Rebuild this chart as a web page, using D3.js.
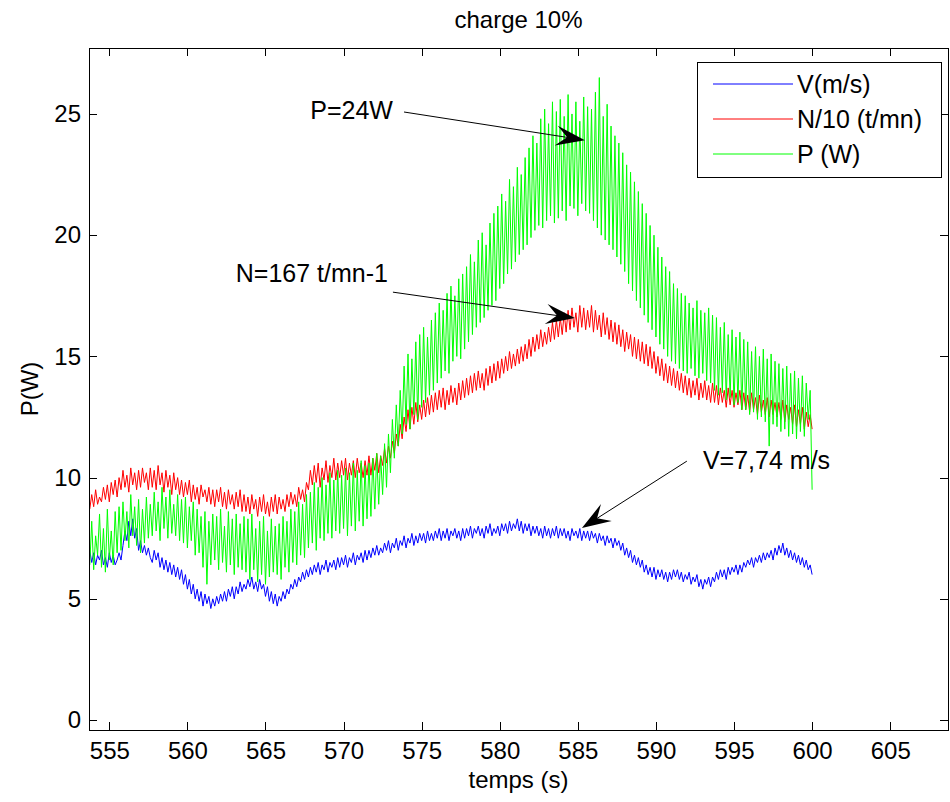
<!DOCTYPE html>
<html>
<head>
<meta charset="utf-8">
<script src="https://cdn.jsdelivr.net/npm/d3@7"></script>
<style>
  body { margin: 0; background: #fff; }
  text { font-family: "Liberation Sans", Arial, sans-serif; fill: #000; }
</style>
</head>
<body>
<div class="chart"></div>
<script>
function wrapper(){

// sampling grid of the recording (s)
var timeStart = 553.75;
var timeStep = 0.125;

// V (m/s), one row = 2 s
var speedV = [
  7.0,6.5,6.9,6.4,6.8,6.6,7.0,6.4,6.7,6.3,6.9,6.5,6.8,6.4,6.6,6.9,
  6.6,7.2,7.8,7.4,8.2,7.6,8.3,7.5,7.9,7.0,7.4,6.9,7.2,6.8,7.1,6.7,
  6.5,7.0,6.6,6.9,6.3,6.7,6.2,6.6,6.1,6.5,6.0,6.4,5.9,6.3,5.8,6.2,
  5.6,6.0,5.4,5.8,5.2,5.6,5.0,5.4,4.9,5.3,4.7,5.2,4.8,5.1,4.6,5.0,
  4.7,5.1,4.8,5.2,4.9,5.3,4.9,5.4,5.1,5.5,5.0,5.5,5.2,5.7,5.3,5.6,
  5.4,5.8,5.5,5.9,5.4,5.7,5.3,5.8,5.4,5.6,5.1,5.5,4.9,5.3,4.8,5.2,
  4.7,5.1,4.9,5.3,5.0,5.4,5.2,5.6,5.4,5.8,5.5,5.9,5.7,6.1,5.8,6.2,
  5.9,6.3,6.0,6.4,6.1,6.5,6.0,6.4,6.2,6.6,6.1,6.5,6.3,6.6,6.2,6.7,
  6.3,6.7,6.4,6.8,6.3,6.7,6.5,6.9,6.4,6.8,6.6,6.9,6.5,7.0,6.6,7.0,
  6.7,7.1,6.8,7.2,6.8,7.1,6.9,7.3,7.0,7.4,6.9,7.3,7.1,7.5,7.0,7.4,
  7.2,7.6,7.1,7.5,7.3,7.7,7.2,7.6,7.3,7.7,7.4,7.7,7.3,7.8,7.4,7.7,
  7.4,7.8,7.5,7.9,7.4,7.8,7.5,7.9,7.4,7.8,7.6,7.9,7.5,7.8,7.4,7.9,
  7.5,7.9,7.6,8.0,7.5,7.9,7.7,8.0,7.6,7.9,7.5,8.0,7.7,8.1,7.6,7.9,
  7.7,8.0,7.6,8.1,7.8,8.1,7.7,8.2,7.8,8.1,7.9,8.3,7.8,8.2,7.7,8.1,
  7.8,8.1,7.6,8.0,7.7,8.0,7.6,7.9,7.5,8.0,7.6,7.9,7.5,7.9,7.6,8.0,
  7.5,7.9,7.6,7.9,7.5,7.8,7.4,7.9,7.6,7.8,7.5,7.9,7.4,7.8,7.5,7.8,
  7.4,7.8,7.5,7.7,7.3,7.7,7.4,7.6,7.2,7.6,7.3,7.5,7.1,7.5,7.2,7.4,
  7.0,7.3,6.8,7.1,6.7,7.0,6.5,6.8,6.4,6.7,6.3,6.6,6.1,6.4,6.0,6.3,
  5.9,6.3,5.8,6.2,5.9,6.2,5.8,6.1,5.7,6.1,5.8,6.2,5.9,6.2,5.8,6.1,
  5.7,6.0,5.8,6.1,5.6,5.9,5.7,6.0,5.5,5.8,5.4,5.8,5.6,5.9,5.5,5.9,
  5.7,6.1,5.8,6.2,5.9,6.2,5.8,6.3,6.0,6.3,6.1,6.4,6.0,6.4,6.1,6.5,
  6.3,6.6,6.4,6.7,6.3,6.7,6.5,6.8,6.5,6.9,6.6,6.9,6.7,7.0,6.6,7.1,
  6.8,7.2,6.9,7.3,6.8,7.1,6.7,7.0,6.6,6.9,6.5,6.8,6.4,6.7,6.3,6.6,
  6.2,6.4,6.0
];

// N/10 (t/mn)
var rotationN = [
  8.7,9.3,8.8,9.5,8.9,9.2,9.0,9.6,9.1,9.7,9.0,9.8,9.3,9.9,9.2,10.0,
  9.5,10.3,9.6,10.1,9.4,10.4,9.7,10.2,9.5,10.3,9.6,10.4,9.8,10.2,9.5,10.4,
  9.6,10.3,9.5,10.5,9.7,10.2,9.4,10.3,9.6,10.1,9.3,10.2,9.5,10.0,9.3,9.9,
  9.2,9.8,9.3,9.9,9.0,9.7,9.1,9.6,8.9,9.7,9.2,9.5,9.0,9.6,8.9,9.5,
  8.8,9.5,9.0,9.6,8.8,9.4,8.7,9.5,8.9,9.3,8.7,9.4,8.8,9.5,8.6,9.3,
  8.6,9.2,8.5,9.3,8.7,9.1,8.4,9.2,8.6,9.3,8.5,9.0,8.4,9.2,8.6,9.3,
  8.5,9.2,8.7,9.1,8.6,9.3,8.8,9.4,8.9,9.3,8.8,9.6,9.1,9.5,9.0,9.8,
  9.5,10.3,9.7,10.5,9.8,10.6,9.6,10.4,9.9,10.7,9.8,10.5,10.0,10.8,9.9,10.6,
  10.0,10.7,10.1,10.8,9.9,10.6,10.1,10.7,10.0,10.8,10.2,10.6,10.0,10.7,10.1,10.9,
  10.1,10.8,10.3,11.0,10.2,10.9,10.5,11.2,10.6,11.3,10.8,11.5,11.0,11.8,11.3,12.2,
  11.6,12.5,11.9,12.8,12.0,12.9,12.2,13.1,12.3,13.0,12.4,13.2,12.5,13.3,12.6,13.4,
  12.7,13.5,12.8,13.6,12.9,13.7,12.8,13.6,13.0,13.8,13.1,13.7,13.0,13.9,13.2,14.0,
  13.3,14.1,13.4,14.2,13.5,14.3,13.6,14.4,13.7,14.3,13.6,14.5,13.8,14.6,13.9,14.7,
  14.0,14.8,14.1,14.9,14.3,15.0,14.4,15.2,14.5,15.1,14.6,15.3,14.7,15.4,14.8,15.5,
  14.9,15.7,15.0,15.8,15.2,15.9,15.3,16.1,15.4,16.0,15.5,16.2,15.6,16.4,15.7,16.5,
  15.8,16.6,15.9,16.8,16.0,16.9,16.1,17.0,16.2,16.8,16.0,17.1,16.2,17.0,16.1,16.9,
  16.2,17.1,16.0,16.9,16.1,16.7,15.8,16.8,15.9,16.6,15.7,16.5,15.6,16.4,15.5,16.3,
  15.4,16.1,15.2,16.0,15.3,15.9,15.0,15.8,14.9,15.7,14.8,15.6,14.7,15.5,14.6,15.4,
  14.5,15.2,14.3,15.0,14.2,14.9,14.0,14.7,13.9,14.6,13.8,14.5,13.7,14.4,13.6,14.3,
  13.5,14.2,13.4,14.1,13.3,14.0,13.4,14.1,13.2,13.9,13.3,14.0,13.2,13.8,13.1,13.9,
  13.1,13.8,13.0,13.7,13.1,13.6,12.9,13.7,13.0,13.6,12.9,13.5,13.0,13.6,12.8,13.5,
  12.8,13.4,12.7,13.5,12.8,13.3,12.6,13.4,12.7,13.2,12.6,13.3,12.5,13.2,12.6,13.1,
  12.5,13.1,12.4,13.2,12.3,13.0,12.4,12.9,12.2,13.0,12.1,12.8,12.2,12.9,12.0,12.7,
  12.1,12.6,12.0
];

// P (W)
var powerP = [
  6.4,8.2,6.2,7.6,6.8,8.5,6.3,7.9,6.1,8.7,6.6,7.8,6.4,8.6,6.9,8.8,
  7.0,9.0,7.4,8.6,7.1,9.3,7.6,8.8,7.2,9.1,6.9,8.7,7.3,9.2,7.5,8.9,
  7.6,9.4,7.8,9.0,7.4,9.6,7.9,9.2,7.5,9.5,7.7,8.9,7.6,9.3,7.4,9.1,
  7.3,9.2,7.1,8.8,7.4,9.0,6.8,8.7,6.9,8.4,6.3,8.6,5.6,8.2,6.4,8.5,
  6.6,8.4,6.2,8.7,6.5,8.0,6.1,8.6,6.4,8.3,6.0,8.5,6.3,8.1,6.2,8.4,
  6.1,8.3,5.8,8.5,6.2,7.9,5.7,8.2,6.0,8.4,5.6,7.8,5.9,8.3,6.1,8.0,
  6.0,8.1,5.8,8.4,6.3,8.2,6.1,8.7,6.5,8.6,6.4,9.0,6.8,8.9,6.7,9.3,
  7.1,9.4,7.3,9.8,7.0,9.6,7.5,10.0,7.4,9.7,7.7,10.2,7.5,9.9,7.8,10.3,
  7.7,10.1,7.9,10.4,7.6,10.2,8.0,10.6,7.8,10.3,8.2,10.7,8.0,10.5,8.3,10.6,
  8.4,10.8,8.7,11.0,8.9,10.9,9.3,11.4,9.6,11.8,10.2,12.4,10.8,13.0,11.3,13.6,
  11.8,14.6,12.2,15.1,12.0,14.9,12.6,15.6,12.4,15.9,12.9,16.2,13.1,15.8,13.4,16.5,
  13.6,16.8,13.9,17.2,14.1,16.9,14.4,17.6,14.3,17.9,14.8,17.5,15.0,18.2,14.9,18.4,
  15.3,18.7,15.6,19.2,15.9,18.9,16.2,19.8,16.4,20.1,16.6,19.6,16.9,20.5,17.1,20.9,
  17.3,21.2,17.8,21.7,18.0,21.4,18.4,22.3,18.6,22.0,18.9,22.8,19.2,22.5,19.4,23.2,
  19.6,23.6,19.9,24.1,20.2,23.8,20.4,24.8,20.3,25.2,20.6,24.6,20.8,25.5,20.5,25.1,
  20.7,25.6,21.0,24.9,20.6,25.8,21.2,25.0,21.1,25.5,20.8,24.7,21.3,25.7,21.0,25.3,
  20.9,25.2,20.6,25.9,20.3,26.5,20.0,24.9,19.8,25.4,19.6,24.5,19.4,24.1,19.1,23.8,
  18.8,23.4,18.5,22.9,18.0,22.6,17.7,22.2,17.3,21.8,17.0,21.3,16.7,20.9,16.4,20.4,
  16.1,20.0,15.8,19.5,15.5,19.1,15.3,18.7,15.0,18.5,14.8,18.0,14.7,17.8,14.5,17.6,
  14.4,17.5,14.3,17.2,14.5,17.0,14.2,17.3,14.1,16.9,14.3,16.8,14.0,17.0,13.9,16.7,
  13.6,16.6,13.4,16.2,13.5,16.4,13.2,15.9,13.3,16.1,13.0,15.8,13.1,16.0,12.8,15.7,
  12.8,15.6,12.6,15.2,12.7,15.4,12.4,15.0,12.5,15.3,12.3,14.9,11.3,15.1,12.2,14.8,
  12.1,14.7,11.9,14.5,12.0,14.6,11.7,14.3,11.8,14.4,11.6,14.1,11.9,14.2,11.7,13.9,
  12.4,13.6,9.5
];

var seriesNames = ["V(m/s)", "N/10 (t/mn)", "P (W)"];
var seriesColors = ["#0000ff", "#ff0000", "#00ff00"];

var xTicks = [555, 560, 565, 570, 575, 580, 585, 590, 595, 600, 605];
var yTicks = [0, 5, 10, 15, 20, 25];

// textarrow annotations: label, text position, tail, head (data units)
var annotLabels = ["P=24W", "N=167 t/mn-1", "V=7,74 m/s"];
var annotAnchor = ["end", "end", "start"];
var annotText = [[573.16, 24.79], [572.84, 18.07], [593.01, 10.35]];
var annotTail = [[573.87, 25.08], [573.16, 17.65], [591.98, 10.68]];
var annotHead = [[585.45, 23.92], [584.81, 16.58], [585.26, 7.92]];

var W = 950, H = 802;
var left = 89, right = 948, top = 48, bottom = 730;

var svg = d3.select("div.chart")
            .append("svg")
            .attr("width", W)
            .attr("height", H);

var x = d3.scaleLinear().domain([553.7, 608.7]).range([left, right]);
var y = d3.scaleLinear().domain([-0.41, 27.72]).range([bottom, top]);

svg.append("defs").append("clipPath")
   .attr("id", "plotclip")
   .append("rect")
   .attr("x", left).attr("y", top)
   .attr("width", right - left).attr("height", bottom - top);

var line = d3.line()
    .x(function(d, i){ return x(timeStart + i * timeStep); })
    .y(function(d){ return y(d); });

var plot = svg.append("g").attr("clip-path", "url(#plotclip)");

[speedV, rotationN, powerP].forEach(function(s, k){
  plot.append("path")
      .datum(s)
      .attr("fill", "none")
      .attr("stroke", seriesColors[k])
      .attr("stroke-width", 1)
      .attr("d", line);
});

//axes, ticks pointing inward on all four sides
var tickLen = 8;
var fontTick = 24;

svg.append("g")
   .attr("transform", "translate(0," + bottom + ")")
   .call(d3.axisBottom(x).tickValues(xTicks).tickSizeInner(-tickLen).tickSizeOuter(0).tickPadding(12))
   .call(styleAxis);
svg.append("g")
   .attr("transform", "translate(0," + top + ")")
   .call(d3.axisTop(x).tickValues(xTicks).tickSizeInner(-tickLen).tickSizeOuter(0).tickFormat(""))
   .call(styleAxis);
svg.append("g")
   .attr("transform", "translate(" + left + ",0)")
   .call(d3.axisLeft(y).tickValues(yTicks).tickSizeInner(-tickLen).tickSizeOuter(0).tickPadding(8))
   .call(styleAxis);
svg.append("g")
   .attr("transform", "translate(" + right + ",0)")
   .call(d3.axisRight(y).tickValues(yTicks).tickSizeInner(-tickLen).tickSizeOuter(0).tickFormat(""))
   .call(styleAxis);

function styleAxis(g) {
  g.select(".domain").remove();
  g.selectAll(".tick line").attr("stroke", "#000").attr("shape-rendering", "crispEdges");
  g.selectAll(".tick text")
   .attr("font-size", fontTick)
   .attr("font-family", "Liberation Sans, Arial, sans-serif")
   .attr("fill", "#000");
}

svg.append("rect")
   .attr("x", left).attr("y", top)
   .attr("width", right - left).attr("height", bottom - top)
   .attr("fill", "none")
   .attr("stroke", "#000")
   .attr("stroke-width", 1)
   .attr("shape-rendering", "crispEdges");

//labels
svg.append("text")
   .attr("x", (left + right) / 2).attr("y", 28)
   .attr("text-anchor", "middle")
   .attr("font-size", 24)
   .text("charge 10%");

svg.append("text")
   .attr("x", (left + right) / 2).attr("y", 788)
   .attr("text-anchor", "middle")
   .attr("font-size", 24)
   .text("temps (s)");

svg.append("text")
   .attr("transform", "translate(38," + ((top + bottom) / 2) + ") rotate(-90)")
   .attr("text-anchor", "middle")
   .attr("font-size", 24)
   .text("P(W)");

//annotations
var ann = svg.append("g");
annotLabels.forEach(function(lab, i){
  var x1 = x(annotTail[i][0]), y1 = y(annotTail[i][1]);
  var x2 = x(annotHead[i][0]), y2 = y(annotHead[i][1]);
  var a = Math.atan2(y2 - y1, x2 - x1);
  ann.append("line")
     .attr("x1", x1).attr("y1", y1)
     .attr("x2", x2 - 18 * Math.cos(a)).attr("y2", y2 - 18 * Math.sin(a))
     .attr("stroke", "#000").attr("stroke-width", 1);
  ann.append("path")
     .attr("d", "M0,0L-29,-10L-18,0L-29,10Z")
     .attr("fill", "#000")
     .attr("transform", "translate(" + x2 + "," + y2 + ") rotate(" + (a * 180 / Math.PI) + ")");
  ann.append("text")
     .attr("x", x(annotText[i][0])).attr("y", y(annotText[i][1]))
     .attr("text-anchor", annotAnchor[i])
     .attr("font-size", 25)
     .text(lab);
});

//legend
var legend = svg.append("g");
legend.append("rect")
      .attr("x", 697).attr("y", 62)
      .attr("width", 244).attr("height", 115)
      .attr("fill", "#fff")
      .attr("stroke", "#000")
      .attr("shape-rendering", "crispEdges");
seriesNames.forEach(function(name, k){
  var ly = 84 + k * 35;
  legend.append("line")
        .attr("x1", 713).attr("x2", 793)
        .attr("y1", ly).attr("y2", ly)
        .attr("stroke", seriesColors[k]);
  legend.append("text")
        .attr("x", 797).attr("y", ly + 9)
        .attr("font-size", 25)
        .text(name);
});

}
window.onload = wrapper;
</script>
</body>
</html>
